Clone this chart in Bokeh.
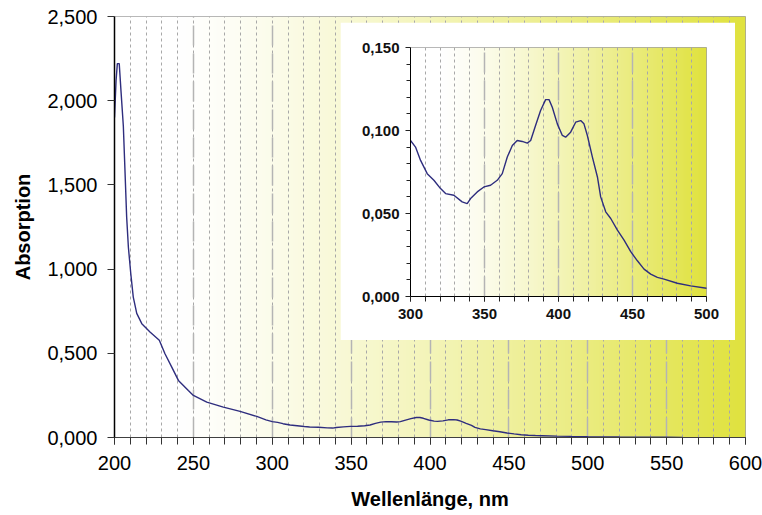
import numpy as np
from bokeh.plotting import figure
from bokeh.models import Range1d, SingleIntervalTicker, FixedTicker, CustomJSTickFormatter, ColumnDataSource
from bokeh.layouts import column
from bokeh.embed import file_html
from bokeh.resources import INLINE

# ---- data ----
wavelength = [200.0, 201.0, 201.8, 203.0, 204.1, 205.6, 206.7, 207.7, 208.8, 210.3,
              211.9, 214.1, 217.3, 222.5, 228.4, 232.0, 236.3, 240.5, 246.8, 250.0,
              258.5, 269.0, 279.6, 290.2, 296.0, 300.0, 303.4, 306.8, 311.3, 315.8,
              320.3, 323.7, 329.3, 334.9, 338.3, 340.6, 345.1, 349.6, 354.1, 358.6,
              362.0, 365.4, 368.8, 372.1, 375.5, 378.9, 381.2, 384.5, 387.9, 391.3,
              393.6, 395.8, 399.2, 402.6, 404.8, 408.2, 411.6, 415.0, 417.2, 419.5,
              422.9, 426.3, 428.5, 431.9, 435.3, 439.8, 444.3, 448.8, 453.3, 457.8,
              462.3, 466.8, 471.3, 480.3, 489.3, 500.0, 510.0, 520.0, 530.0, 540.0,
              550.0, 560.0]
absorption = [1.90, 2.12, 2.22, 2.22, 2.06, 1.85, 1.57, 1.31, 1.13, 0.975,
              0.834, 0.737, 0.676, 0.626, 0.577, 0.497, 0.418, 0.339, 0.279, 0.250,
              0.210, 0.180, 0.155, 0.125, 0.105, 0.094, 0.090, 0.082, 0.074, 0.070,
              0.065, 0.062, 0.061, 0.057, 0.056, 0.059, 0.063, 0.066, 0.067, 0.070,
              0.074, 0.084, 0.091, 0.094, 0.0934, 0.0924, 0.094, 0.103, 0.112, 0.1186,
              0.1186, 0.114, 0.104, 0.097, 0.096, 0.099, 0.105, 0.106, 0.104, 0.097,
              0.084, 0.072, 0.060, 0.051, 0.047, 0.040, 0.034, 0.027, 0.0215, 0.0165,
              0.0135, 0.0115, 0.0105, 0.008, 0.0064, 0.005, 0.004, 0.003, 0.0025, 0.002,
              0.0015, 0.001]

main_x_range = (200, 600)
main_y_range = (0, 2.5)
inset_x_range = (300, 500)
inset_y_range = (0, 0.15)

main_y_ticks = [0.0, 0.5, 1.0, 1.5, 2.0, 2.5]
inset_y_ticks = [0.0, 0.05, 0.10, 0.15]
inset_y_minor = [0.01, 0.02, 0.03, 0.04, 0.06, 0.07, 0.08, 0.09,
                 0.11, 0.12, 0.13, 0.14]

x_label = "Wellenlänge, nm"
y_label = "Absorption"

src = ColumnDataSource(data=dict(x=wavelength, y=absorption))

LINE_COLOR = "#2e2d7e"
FMT = CustomJSTickFormatter(code="return tick.toFixed(3).replace('.', ',');")


def gradient_image(ncols):
    t = np.linspace(0, 1, ncols)
    f = np.clip((t - 0.1) / 0.9, 0, 1) ** 1.25
    r = 255 - (255 - 224) * f
    g = 255 - (255 - 226) * f
    b = 255 - (255 - 62) * f
    img = np.empty((1, ncols), dtype=np.uint32)
    view = img.view(dtype=np.uint8).reshape((1, ncols, 4))
    view[0, :, 0] = r.astype(np.uint8)
    view[0, :, 1] = g.astype(np.uint8)
    view[0, :, 2] = b.astype(np.uint8)
    view[0, :, 3] = 255
    return img


def style_grid(fig):
    fig.ygrid.grid_line_color = None
    fig.xgrid.grid_line_color = "#b4b4b4"
    fig.xgrid.grid_line_width = 1.5
    fig.xgrid.grid_line_dash = "20 8"
    fig.xgrid.minor_grid_line_color = "#a8a8a8"
    fig.xgrid.minor_grid_line_width = 1
    fig.xgrid.minor_grid_line_dash = "3 3"


# ---- main figure ----
p = figure(width=762, height=515,
           x_range=Range1d(*main_x_range), y_range=Range1d(*main_y_range),
           output_backend="svg", toolbar_location=None,
           min_border_left=114, min_border_right=17,
           min_border_top=16, min_border_bottom=78)
p.frame_align = False
p.background_fill_color = "white"
p.border_fill_color = "white"
p.outline_line_color = "#a0a0a0"

p.image_rgba(image=[gradient_image(630)], x=main_x_range[0], y=main_y_range[0],
             dw=main_x_range[1] - main_x_range[0], dh=main_y_range[1] - main_y_range[0],
             level="image")
p.line("x", "y", source=src, line_color=LINE_COLOR, line_width=1.4)

p.xaxis.ticker = SingleIntervalTicker(interval=50, num_minor_ticks=5)
p.yaxis.ticker = FixedTicker(ticks=main_y_ticks)
p.yaxis.formatter = FMT
style_grid(p)

for ax in (p.xaxis[0], p.yaxis[0]):
    ax.major_label_text_font = "Liberation Sans"
    ax.major_label_text_font_size = "20px"
    ax.major_label_text_color = "black"
    ax.axis_label_text_font = "Liberation Sans"
    ax.axis_label_text_font_size = "20px"
    ax.axis_label_text_font_style = "bold"
    ax.axis_label_text_color = "black"
    ax.major_tick_in = 0
    ax.major_tick_out = 7
    ax.minor_tick_in = 0
    ax.minor_tick_out = 7
    ax.major_tick_line_color = "#333333"
    ax.minor_tick_line_color = "#333333"
p.xaxis.axis_label = x_label
p.yaxis.axis_label = y_label
p.xaxis.axis_line_color = "#404040"
p.yaxis.axis_line_color = "black"
p.yaxis.axis_line_width = 1.5
p.xaxis.major_label_standoff = 11
p.yaxis.major_label_standoff = 10
p.xaxis.axis_label_standoff = 15
p.yaxis.axis_label_standoff = 10

# ---- inset figure ----
q = figure(width=395, height=318,
           x_range=Range1d(*inset_x_range), y_range=Range1d(*inset_y_range),
           output_backend="svg", toolbar_location=None,
           min_border_left=70, min_border_right=29,
           min_border_top=25, min_border_bottom=44)
q.frame_align = False
q.background_fill_color = "white"
q.border_fill_color = "white"
q.outline_line_color = "#a0a0a0"
q.image_rgba(image=[gradient_image(300)], x=inset_x_range[0], y=inset_y_range[0],
             dw=inset_x_range[1] - inset_x_range[0], dh=inset_y_range[1] - inset_y_range[0],
             level="image")
q.line("x", "y", source=src, line_color=LINE_COLOR, line_width=1.4)
q.xaxis.ticker = SingleIntervalTicker(interval=50, num_minor_ticks=5)
q.yaxis.ticker = FixedTicker(ticks=inset_y_ticks, minor_ticks=inset_y_minor)
q.yaxis.formatter = FMT
style_grid(q)
for ax in (q.xaxis[0], q.yaxis[0]):
    ax.major_label_text_font = "Liberation Sans"
    ax.major_label_text_font_size = "15px"
    ax.major_label_text_font_style = "bold"
    ax.major_label_text_color = "#111111"
    ax.major_tick_in = 0
    ax.major_tick_out = 5
    ax.minor_tick_in = 0
    ax.minor_tick_out = 4
    ax.major_tick_line_color = "#222222"
    ax.minor_tick_line_color = "#222222"
    ax.axis_line_color = "black"
q.xaxis.minor_tick_out = 5
q.xaxis.major_label_standoff = 7
q.yaxis.major_label_standoff = 6

q.styles = {"position": "absolute", "left": "340px", "top": "22px", "z-index": "10"}

layout = column(p, q, spacing=0)
layout.styles = {"position": "relative"}

open("out.html", "w").write(file_html(layout, INLINE))
